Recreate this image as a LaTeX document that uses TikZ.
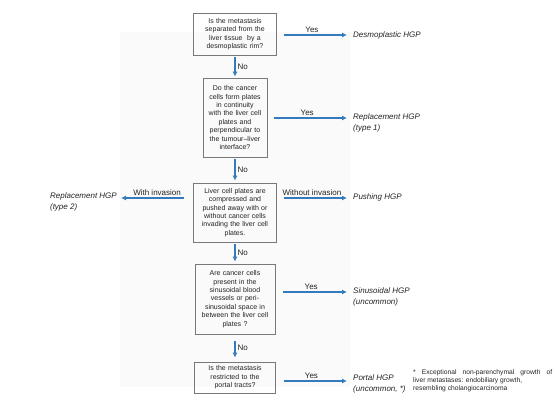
\documentclass[tikz,border=0pt]{standalone}
\usepackage{fontspec}
\setmainfont{Liberation Sans}
\usetikzlibrary{arrows.meta,positioning,backgrounds}
\definecolor{hgBlue} {RGB}{ 52,122,190}
\definecolor{hgGrey} {RGB}{120,120,120}
\definecolor{hgText} {RGB}{ 35, 35, 35}
\definecolor{hgPanel}{RGB}{250,250,250}

\begin{document}
\begin{tikzpicture}[x=1pt,y=-1pt,
  every node/.style={font=\fontsize{8}{10}\selectfont,text=hgText},
  qbox/.style={draw=hgGrey,line width=0.8pt,align=center,inner sep=1pt,
               font=\fontsize{7}{8.4}\selectfont},
  flow/.style={-{Latex[length=5pt,width=5pt]},hgBlue,line width=1.4pt},
  hgp/.style={font=\itshape\fontsize{8}{11}\selectfont,align=left,inner sep=0pt},
  lbl/.style={font=\fontsize{8}{10}\selectfont,inner sep=2pt}
]
\useasboundingbox (0,0) rectangle (558,400);

% question boxes
\node[qbox,text width=81pt,minimum height=42pt] (b1) at (235,34)
  {Is the metastasis\\separated from the\\liver tissue \ by a\\desmoplastic rim?};
\node[qbox,text width=62pt,minimum height=79pt] (b2) at (235,117.5)
  {Do the cancer\\cells form plates\\in continuity\\with the liver cell\\plates and\\perpendicular to\\the tumour--liver\\interface?};
\node[qbox,text width=81pt,minimum height=59pt] (b3) at (235,212.5)
  {Liver cell plates are\\compressed and\\pushed away with or\\without cancer cells\\invading the liver cell\\plates.};
\node[qbox,text width=78pt,minimum height=70pt] (b4) at (235,299)
  {Are cancer cells\\present in the\\sinusoidal blood\\vessels or peri-\\sinusoidal space in\\between the liver cell\\plates ?};
\node[qbox,text width=79pt,minimum height=31pt] (b5) at (235,377.5)
  {Is the metastasis\\restricted to the\\portal tracts?};

% arrow ends and growth patterns
\coordinate (e1) at (347,35);
\coordinate (e2) at (347,118);
\coordinate (e3) at (347,198);
\coordinate (e3l) at (121,198);
\coordinate (e4) at (347,292);
\coordinate (e5) at (347,381);

\node[hgp,anchor=north west] (o1) at (353,31.5) {Desmoplastic HGP};
\node[hgp,anchor=north west] (o2) at (353,113.5) {Replacement HGP\\(type 1)};
\node[hgp,anchor=north west] (o3) at (353,193.5) {Pushing HGP};
\node[hgp,anchor=north east] (o3l) at (117,192.5) {Replacement HGP\\(type 2)};
\node[hgp,anchor=north west] (o4) at (353,287.5) {Sinusoidal HGP\\(uncommon)};
\node[hgp,anchor=north west] (o5) at (353,374) {Portal HGP\\(uncommon, *)};

\node[anchor=north west,align=left,inner sep=0pt,
      font=\fontsize{6.7}{8.1}\selectfont] (fn) at (413,369.5)
  {\makebox[139pt][s]{* Exceptional non-parenchymal growth of}\\
   liver metastases: endobiliary growth,\\
   resembling cholangiocarcinoma};

% connectors
\draw[flow,shorten <=2pt,shorten >=1pt] (b1) -- node[lbl,right]{No} (b2);
\draw[flow,shorten <=2pt,shorten >=2pt] (b2) -- node[lbl,right]{No} (b3);
\draw[flow,shorten <=2pt,shorten >=2pt] (b3) -- node[lbl,right]{No} (b4);
\draw[flow,shorten <=7pt,shorten >=4pt] (b4) -- node[lbl,right]{No} (b5);

\draw[flow,shorten <=7pt] (b1.east |- e1) -- node[lbl,above]{Yes} (e1);
\draw[flow,shorten <=7pt] (b2.east |- e2) -- node[lbl,above]{Yes} (e2);
\draw[flow,shorten <=7pt] (b3.east |- e3) -- node[lbl,above]{Without invasion} (e3);
\draw[flow,shorten <=9pt] (b3.west |- e3l) -- node[lbl,above]{With invasion} (e3l);
\draw[flow,shorten <=8pt] (b4.east |- e4) -- node[lbl,above]{Yes} (e4);
\draw[flow,shorten <=8pt] (b5.east |- e5) -- node[lbl,above]{Yes} (e5);

\begin{scope}[on background layer]
  \fill[hgPanel] (120,32) rectangle (350,387);
\end{scope}
\end{tikzpicture}
\end{document}
